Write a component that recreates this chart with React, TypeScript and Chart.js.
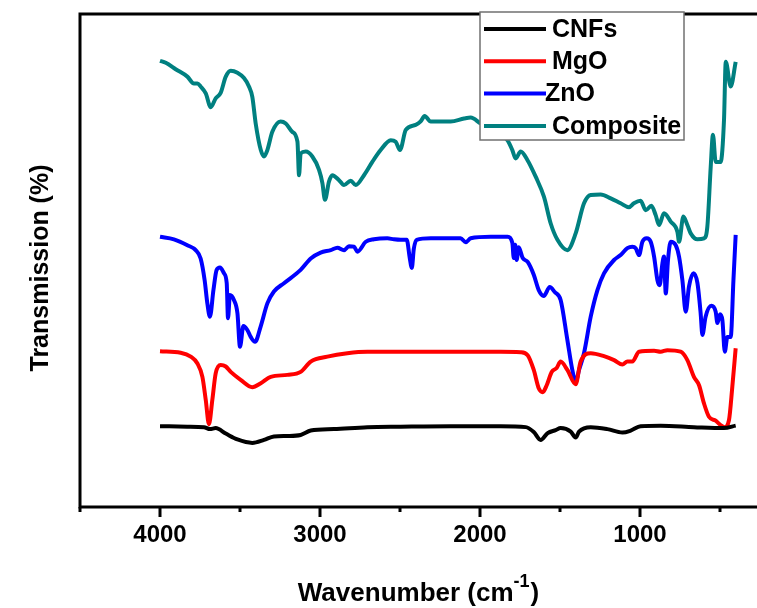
import React, { useEffect, useRef } from 'react';
import { Chart, registerables } from 'chart.js';

Chart.register(...registerables);

// ---- Data (wavenumber in cm-1, transmission in arbitrary %-scale) ----
const xTickValues = [4000, 3000, 2000, 1000];
const xMinorTickValues = [4500, 3500, 2500, 1500, 500];
const seriesNames = ['CNFs', 'MgO', 'ZnO', 'Composite'];
const seriesColors = ['#000000', '#ff0000', '#0000ff', '#008080'];

const cnfsWave = [4000, 3829, 3725, 3688, 3652, 3589, 3516, 3423, 3350, 3288, 3204, 3121, 3058, 2913, 2704, 2496, 2183, 1871, 1714, 1664, 1621, 1577, 1527, 1496, 1433, 1402, 1381, 1308, 1204, 1110, 1058, 996, 871, 663, 475, 402];
const cnfsT = [16.4, 16.3, 16.2, 15.8, 16.0, 14.9, 13.7, 13.0, 13.6, 14.3, 14.4, 14.6, 15.5, 15.8, 16.2, 16.3, 16.4, 16.4, 16.2, 15.2, 13.6, 15.0, 15.6, 16.0, 15.3, 14.1, 15.3, 16.2, 15.8, 15.1, 15.5, 16.4, 16.5, 16.2, 16.0, 16.5];

const mgoWave = [4000, 3871, 3808, 3766, 3735, 3714, 3694, 3673, 3652, 3621, 3589, 3558, 3496, 3423, 3370, 3308, 3204, 3121, 3058, 2954, 2829, 2704, 2496, 2183, 1871, 1746, 1702, 1664, 1633, 1608, 1583, 1552, 1521, 1496, 1454, 1402, 1371, 1308, 1225, 1162, 1110, 1079, 1048, 1006, 912, 871, 829, 746, 704, 663, 631, 600, 569, 527, 496, 471, 444, 423, 402];
const mgoT = [31.6, 31.3, 30.5, 29.1, 26.4, 21.7, 16.8, 21.7, 27.1, 28.8, 28.5, 27.4, 25.8, 24.3, 25.1, 26.4, 26.8, 27.4, 29.5, 30.5, 31.2, 31.5, 31.5, 31.5, 31.5, 31.4, 30.8, 27.8, 24.1, 23.3, 24.7, 27.4, 28.2, 29.5, 27.8, 24.9, 29.5, 31.2, 30.6, 29.8, 28.9, 29.5, 29.5, 31.5, 31.7, 31.5, 31.8, 31.5, 29.8, 26.4, 24.7, 21.0, 18.3, 17.5, 16.6, 16.2, 17.6, 24.4, 32.2];

const znoWave = [4000, 3913, 3829, 3777, 3746, 3721, 3704, 3688, 3666, 3646, 3625, 3600, 3583, 3575, 3563, 3538, 3516, 3500, 3479, 3454, 3433, 3406, 3371, 3329, 3288, 3225, 3121, 3058, 2996, 2933, 2891, 2850, 2819, 2788, 2766, 2714, 2663, 2579, 2538, 2496, 2458, 2439, 2426, 2414, 2396, 2308, 2121, 2089, 2058, 1933, 1827, 1798, 1789, 1780, 1771, 1758, 1733, 1702, 1664, 1633, 1602, 1564, 1533, 1496, 1454, 1423, 1402, 1381, 1350, 1308, 1266, 1225, 1162, 1121, 1079, 1048, 1027, 1006, 985, 958, 933, 912, 891, 877, 860, 850, 839, 825, 808, 777, 756, 735, 714, 694, 666, 641, 621, 610, 590, 554, 527, 516, 500, 485, 470, 454, 433, 416, 402];
const znoT = [54.8, 54.3, 53.1, 52.1, 50.4, 46.0, 41.3, 38.6, 44.0, 48.1, 48.6, 47.4, 45.4, 38.3, 43.0, 42.0, 39.3, 32.5, 36.7, 35.9, 34.5, 33.5, 36.6, 41.3, 43.7, 45.4, 48.1, 50.4, 51.6, 52.1, 52.6, 52.1, 52.9, 52.8, 51.8, 53.8, 54.3, 54.5, 54.3, 54.2, 54.2, 50.5, 48.5, 52.3, 54.2, 54.5, 54.5, 53.7, 54.5, 54.8, 54.8, 53.6, 50.5, 53.2, 50.1, 52.7, 50.5, 49.7, 47.1, 44.0, 42.8, 44.6, 43.6, 42.0, 33.9, 27.8, 25.4, 27.8, 31.2, 38.6, 44.0, 47.4, 50.1, 51.1, 52.5, 52.8, 52.5, 51.1, 53.8, 54.5, 53.8, 50.8, 46.0, 45.0, 49.4, 50.8, 43.3, 50.1, 53.8, 53.1, 50.8, 46.0, 39.6, 44.7, 47.4, 45.4, 39.3, 34.9, 38.6, 40.8, 39.6, 37.3, 39.1, 37.9, 31.5, 34.5, 34.5, 46.0, 55.2];

const compWave = [4000, 3964, 3902, 3829, 3788, 3766, 3746, 3714, 3683, 3652, 3621, 3589, 3558, 3516, 3475, 3444, 3423, 3402, 3370, 3350, 3329, 3298, 3246, 3214, 3173, 3141, 3131, 3121, 3089, 3048, 3006, 2985, 2969, 2944, 2923, 2881, 2850, 2808, 2777, 2725, 2673, 2621, 2558, 2527, 2500, 2464, 2402, 2371, 2346, 2308, 2183, 2100, 2058, 1996, 1902, 1829, 1798, 1777, 1746, 1704, 1652, 1600, 1558, 1516, 1454, 1402, 1350, 1308, 1246, 1183, 1121, 1069, 1038, 996, 964, 929, 902, 881, 850, 808, 766, 756, 729, 704, 683, 641, 600, 579, 558, 544, 527, 496, 475, 464, 433, 402];
const compT = [90.5, 90.1, 88.8, 87.3, 85.9, 85.9, 85.3, 83.9, 81.1, 82.9, 84.0, 87.3, 88.5, 88.1, 87.0, 85.3, 83.2, 77.8, 72.4, 71.1, 72.4, 76.1, 78.2, 77.8, 76.1, 74.1, 67.3, 71.7, 72.1, 71.1, 68.4, 65.7, 62.3, 66.0, 67.3, 66.3, 65.3, 66.2, 65.3, 67.3, 70.0, 72.4, 74.4, 74.1, 72.4, 76.5, 77.5, 78.2, 79.3, 78.2, 78.2, 78.8, 79.0, 77.8, 76.5, 74.4, 72.4, 70.7, 72.1, 70.4, 67.0, 62.9, 57.5, 54.2, 52.1, 55.5, 61.6, 63.3, 63.4, 62.6, 61.6, 60.8, 61.6, 62.1, 60.2, 61.1, 59.2, 57.2, 59.6, 57.9, 55.8, 53.8, 58.9, 57.2, 55.5, 54.3, 54.5, 56.9, 69.0, 75.5, 70.0, 70.0, 78.5, 90.3, 85.3, 90.3];

const seriesWaves = [cnfsWave, mgoWave, znoWave, compWave];
const seriesValues = [cnfsT, mgoT, znoT, compT];

const FONT = "'Liberation Sans', Arial, Helvetica, sans-serif";

const decorPlugin = {
  id: 'ftirDecor',
  beforeDatasetsDraw(chart: any) {
    const { ctx, chartArea } = chart;
    const { left, top, right, bottom } = chartArea;
    const xs = chart.scales.x;
    ctx.save();
    ctx.strokeStyle = '#000';
    ctx.lineWidth = 3;
    ctx.lineCap = 'square';
    ctx.beginPath();
    ctx.moveTo(right + 20, top);
    ctx.lineTo(left, top);
    ctx.lineTo(left, bottom);
    ctx.lineTo(right + 20, bottom);
    ctx.stroke();
    ctx.lineCap = 'butt';
    xTickValues.forEach((v) => {
      const px = xs.getPixelForValue(v);
      ctx.beginPath();
      ctx.moveTo(px, bottom);
      ctx.lineTo(px, bottom + 10);
      ctx.stroke();
    });
    xMinorTickValues.forEach((v) => {
      const px = xs.getPixelForValue(v);
      ctx.beginPath();
      ctx.moveTo(px, bottom);
      ctx.lineTo(px, bottom + 5);
      ctx.stroke();
    });
    ctx.restore();
  },
  afterDatasetsDraw(chart: any) {
    const { ctx } = chart;
    ctx.save();
    const bx = 480, by = 12, bw = 204, bh = 128;
    ctx.fillStyle = '#ffffff';
    ctx.fillRect(bx, by, bw, bh);
    ctx.strokeStyle = '#707070';
    ctx.lineWidth = 1.5;
    ctx.strokeRect(bx, by, bw, bh);
    ctx.font = `bold 25px ${FONT}`;
    ctx.textBaseline = 'middle';
    ctx.textAlign = 'left';
    seriesNames.forEach((name, i) => {
      const y = by + 17 + i * 32.3;
      ctx.strokeStyle = seriesColors[i];
      ctx.lineWidth = 4;
      ctx.beginPath();
      ctx.moveTo(bx + 4, y);
      ctx.lineTo(bx + 66, y);
      ctx.stroke();
      ctx.fillStyle = '#000';
      ctx.fillText(name, name === 'ZnO' ? bx + 65 : bx + 72, y + 1);
    });
    ctx.restore();
  },
  afterDraw(chart: any) {
    const { ctx } = chart;
    ctx.save();
    ctx.fillStyle = '#000';
    ctx.font = `bold 25px ${FONT}`;
    ctx.textAlign = 'center';
    ctx.textBaseline = 'middle';
    ctx.translate(41, 268);
    ctx.rotate(-Math.PI / 2);
    ctx.fillText('Transmission (%)', 0, 0);
    ctx.restore();

    ctx.save();
    ctx.fillStyle = '#000';
    ctx.textBaseline = 'alphabetic';
    ctx.textAlign = 'left';
    const main = 'Wavenumber (cm';
    const sup = '-1';
    const close = ')';
    ctx.font = `bold 26px ${FONT}`;
    const w1 = ctx.measureText(main).width;
    const w3 = ctx.measureText(close).width;
    ctx.font = `bold 18px ${FONT}`;
    const w2 = ctx.measureText(sup).width;
    const total = w1 + w2 + w3;
    const cx = 418;
    let x = cx - total / 2;
    const base = 601;
    ctx.font = `bold 26px ${FONT}`;
    ctx.fillText(main, x, base);
    x += w1;
    ctx.font = `bold 18px ${FONT}`;
    ctx.fillText(sup, x, base - 14);
    x += w2;
    ctx.font = `bold 26px ${FONT}`;
    ctx.fillText(close, x + 1, base);
    ctx.restore();
  },
};

export default function App() {
  const canvasRef = useRef<HTMLCanvasElement | null>(null);

  useEffect(() => {
    if (!canvasRef.current) return;
    const datasets = seriesNames.map((name, i) => ({
      label: name,
      data: seriesWaves[i].map((w, j) => ({ x: w, y: seriesValues[i][j] })),
      borderColor: seriesColors[i],
      backgroundColor: seriesColors[i],
      borderWidth: 4,
      pointRadius: 0,
      fill: false,
      cubicInterpolationMode: 'monotone' as const,
    }));
    const chart = new Chart(canvasRef.current, {
      type: 'line',
      data: { datasets },
      options: {
        animation: false,
        responsive: true,
        maintainAspectRatio: false,
        layout: { padding: { left: 80, top: 14, right: 10, bottom: 0 } },
        plugins: {
          legend: { display: false },
          tooltip: { enabled: false },
        },
        scales: {
          x: {
            type: 'linear',
            reverse: true,
            min: 0,
            max: 4500,
            afterBuildTicks: (scale: any) => {
              scale.ticks = xTickValues.map((v) => ({ value: v }));
            },
            afterFit: (scale: any) => {
              scale.height = 101;
            },
            grid: { display: false, drawTicks: false },
            border: { display: false },
            ticks: {
              color: '#000',
              font: { family: FONT, size: 24, weight: 'bold' },
              padding: 14,
              maxRotation: 0,
              autoSkip: false,
              callback: (v: any) => String(v),
            },
          },
          y: {
            display: false,
            min: 0,
            max: 100,
          },
        },
      },
      plugins: [decorPlugin],
    });
    return () => chart.destroy();
  }, []);

  return (
    <div style={{ position: 'fixed', left: 0, top: 0, width: 757, height: 608, overflow: 'hidden', background: '#fff' }}>
      <div style={{ position: 'relative', width: 810, height: 608 }}>
        <canvas ref={canvasRef} />
      </div>
    </div>
  );
}
